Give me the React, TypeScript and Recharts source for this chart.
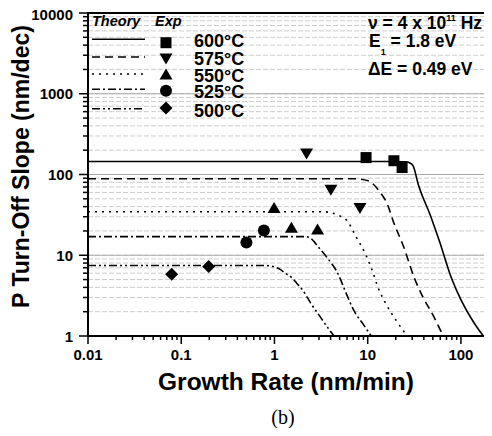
import * as React from 'react';
import {
  ComposedChart, Line, Scatter, XAxis, YAxis, CartesianGrid, ReferenceLine, ReferenceArea
} from 'recharts';

// theory curves
const rate600 = [0.01, 10, 25.8, 28, 30.7, 34.7, 48, 58.5, 78.7, 100.7, 139, 174];
const slope600 = [145, 145, 144, 140, 128, 77, 29.2, 15.2, 5.3, 2.76, 1.44, 1];
const rate575 = [0.01, 7.2, 10.1, 13.2, 16.5, 18.7, 24.5, 31.5, 37.4, 51.6, 64.6];
const slope575 = [88.5, 88.5, 83.6, 63, 41, 26.8, 12.4, 5.3, 3.37, 1.7, 1];
const rate550 = [0.01, 3.3, 4.9, 6.0, 7.5, 9.4, 11.1, 12.9, 15.7, 20.2, 26.5];
const slope550 = [34.6, 34.6, 31, 26.8, 17, 10.5, 6.65, 4.0, 2.5, 1.56, 1];
const rate525 = [0.01, 2.17, 2.46, 3.0, 3.65, 4.8, 5.8, 7.1, 9.1, 10.9];
const slope525 = [17, 17, 16.1, 12.4, 9.4, 5.9, 3.5, 2.07, 1.36, 1];
const rate500 = [0.01, 0.81, 1.11, 1.32, 1.53, 1.74, 2.02, 2.46, 3.07, 3.84, 4.35];
const slope500 = [7.45, 7.45, 6.85, 5.94, 5.3, 4.48, 3.66, 2.53, 1.75, 1.21, 1];

// experimental points
const expRate600 = [9.6, 19.1, 23.4];
const expSlope600 = [162, 148, 122];
const expRate575 = [2.21, 4.03, 8.26];
const expSlope575 = [180, 64, 38];
const expRate550 = [0.99, 1.52, 2.9];
const expSlope550 = [39, 22.2, 21.2];
const expRate525 = [0.5, 0.77];
const expSlope525 = [14.4, 20.2];
const expRate500 = [0.079, 0.197];
const expSlope500 = [5.8, 7.25];

const temps = ['600°C', '575°C', '550°C', '525°C', '500°C'];

const xTicks = [
  0.01, 0.02, 0.03, 0.04, 0.05, 0.06, 0.07, 0.08, 0.09,
  0.1, 0.2, 0.3, 0.4, 0.5, 0.6, 0.7, 0.8, 0.9,
  1, 2, 3, 4, 5, 6, 7, 8, 9,
  10, 20, 30, 40, 50, 60, 70, 80, 90,
  100, 200,
];
const xLabels = [0.01, 0.1, 1, 10, 100];
const yTicks = [
  1, 2, 3, 4, 5, 6, 7, 8, 9,
  10, 20, 30, 40, 50, 60, 70, 80, 90,
  100, 200, 300, 400, 500, 600, 700, 800, 900,
  1000, 2000, 3000, 4000, 5000, 6000, 7000, 8000, 9000,
  10000,
];
const yLabels = [1, 10, 100, 1000, 10000];
const yMajorGrid = [10, 100, 1000];

const FONT = '"Liberation Sans", Arial, sans-serif';

const toRows = (r: number[], s: number[]) => r.map((v, i) => ({ rate: v, slope: s[i] }));

const series = [
  { name: temps[0], line: toRows(rate600, slope600), exp: toRows(expRate600, expSlope600), dash: undefined, marker: 'square' },
  { name: temps[1], line: toRows(rate575, slope575), exp: toRows(expRate575, expSlope575), dash: '8 5', marker: 'down' },
  { name: temps[2], line: toRows(rate550, slope550), exp: toRows(expRate550, expSlope550), dash: '2 5', marker: 'up' },
  { name: temps[3], line: toRows(rate525, slope525), exp: toRows(expRate525, expSlope525), dash: '8 3 2 3', marker: 'circle' },
  { name: temps[4], line: toRows(rate500, slope500), exp: toRows(expRate500, expSlope500), dash: '8 3 2 3 2 3', marker: 'diamond' },
];

function Marker({ kind, cx, cy }: { kind: string, cx: number, cy: number }) {
  if (cx == null || cy == null) return null;
  switch (kind) {
    case 'square':
      return <rect x={cx - 5.5} y={cy - 5.5} width={11} height={11} fill="#000" />;
    case 'down':
      return <polygon points={`${cx - 6.5},${cy - 5.5} ${cx + 6.5},${cy - 5.5} ${cx},${cy + 5.5}`} fill="#000" />;
    case 'up':
      return <polygon points={`${cx - 6.5},${cy + 5.5} ${cx + 6.5},${cy + 5.5} ${cx},${cy - 5.5}`} fill="#000" />;
    case 'circle':
      return <circle cx={cx} cy={cy} r={6} fill="#000" />;
    default:
      return <polygon points={`${cx},${cy - 6.5} ${cx + 6.5},${cy} ${cx},${cy + 6.5} ${cx - 6.5},${cy}`} fill="#000" />;
  }
}

function XTick(props: any) {
  const { x, y, payload } = props;
  const major = xLabels.includes(payload.value);
  return (
    <g>
      <line x1={x} x2={x} y1={y} y2={y + (major ? 8 : 4)} stroke="#000" strokeWidth={1.5} />
      {major && (
        <text x={x} y={y + 23.5} textAnchor="middle" fontFamily={FONT} fontWeight="bold" fontSize={15} fill="#000">
          {String(payload.value)}
        </text>
      )}
    </g>
  );
}

function YTick(props: any) {
  const { x, y, payload } = props;
  const major = yLabels.includes(payload.value);
  return (
    <g>
      <line x1={x - (major ? 9 : 5)} x2={x} y1={y} y2={y} stroke="#000" strokeWidth={1.5} />
      {major && (
        <text x={x - 15} y={payload.value === 10000 ? y + 6.5 : y + 5.5} textAnchor="end" fontFamily={FONT} fontWeight="bold" fontSize={15} fill="#000">
          {String(payload.value)}
        </text>
      )}
    </g>
  );
}

export default function App() {
  const legendLineY = [31.3, 49, 66, 81.3, 100.7];
  const legendMarkY = [34.7, 51, 66, 82.7, 100];
  const legendTextY = [39, 57, 73.5, 90, 108.5];
  return (
    <div style={{ position: 'relative', width: 484, height: 420 }}>
      <ComposedChart width={484} height={420} margin={{ top: 5, right: 3, bottom: 62, left: 20 }}>
        <CartesianGrid vertical={false} stroke="#cccccc" strokeDasharray="5 2" />
        {yMajorGrid.map((v) => (
          <ReferenceLine key={v} y={v} stroke="#aaaaaa" strokeWidth={1} />
        ))}
        <XAxis
          dataKey="rate" type="number" scale="log" domain={[0.01, 200]} allowDataOverflow
          ticks={xTicks} interval={0} tick={<XTick />} tickLine={false} tickSize={0} tickMargin={0}
          height={30} axisLine={{ stroke: '#000', strokeWidth: 2 }}
        />
        <YAxis
          dataKey="slope" type="number" scale="log" domain={[1, 10000]} allowDataOverflow
          ticks={yTicks} interval={0} tick={<YTick />} tickLine={false} tickSize={0} tickMargin={0}
          width={60} axisLine={{ stroke: '#000', strokeWidth: 2 }}
        />
        {series.map((s) => (
          <Line
            key={'l' + s.name} data={s.line} dataKey="slope" type="monotone" stroke="#000"
            strokeWidth={1.6} strokeDasharray={s.dash} dot={false} isAnimationActive={false}
          />
        ))}
        {series.map((s) => (
          <Scatter
            key={'s' + s.name} data={s.exp} dataKey="slope" isAnimationActive={false}
            shape={(p: any) => <Marker kind={s.marker} cx={p.cx} cy={p.cy} />}
          />
        ))}
        <ReferenceArea x1={0.01} x2={200} y1={1} y2={10000} fill="none" stroke="#000" strokeWidth={2} />
      </ComposedChart>
      <svg width={484} height={420} style={{ position: 'absolute', left: 0, top: 0, pointerEvents: 'none' }}>
        <g fontFamily={FONT} fontWeight="bold" fill="#000">
          <text x={84} y={18} fontSize={14.5} fontStyle="italic">Theory</text>
          <text x={147} y={18} fontSize={14.5} fontStyle="italic">Exp</text>
          {series.map((s, i) => (
            <g key={s.name}>
              <line x1={84} x2={137} y1={legendLineY[i]} y2={legendLineY[i]} stroke="#000" strokeWidth={1.6} strokeDasharray={s.dash} />
              <Marker kind={s.marker} cx={158} cy={legendMarkY[i]} />
              <text x={186} y={legendTextY[i]} fontSize={18}>{s.name}</text>
            </g>
          ))}
          <text x={360} y={21} fontSize={17.5}>
            ν = 4 x 10<tspan dy={-8} fontSize={9}>11</tspan><tspan dy={8}> Hz</tspan>
          </text>
          <text x={361} y={39} fontSize={17.5}>
            E<tspan dy={8} fontSize={9}>1</tspan><tspan dy={-8}> = 1.8 eV</tspan>
          </text>
          <text x={360} y={67} fontSize={17.5}>ΔE = 0.49 eV</text>
          <text x={278} y={382} fontSize={24.5} textAnchor="middle">Growth Rate (nm/min)</text>
          <text transform="translate(20.5,158.5) rotate(-90)" fontSize={23} textAnchor="middle">P Turn-Off Slope (nm/dec)</text>
        </g>
        <text x={275} y={416} fontSize={20} textAnchor="middle" fontFamily='"Liberation Serif", "Times New Roman", serif' fill="#000">(b)</text>
      </svg>
    </div>
  );
}
